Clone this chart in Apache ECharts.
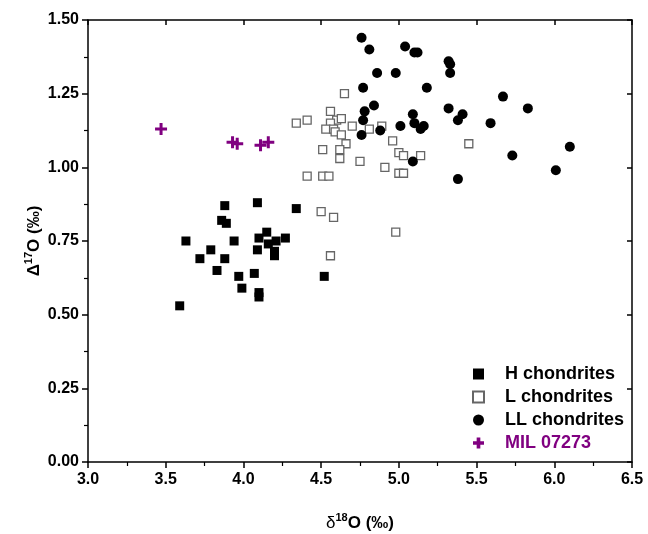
<!DOCTYPE html>
<html><head><meta charset="utf-8">
<script src="https://cdn.jsdelivr.net/npm/echarts@6/dist/echarts.min.js"></script>
<style>html,body{margin:0;padding:0;background:#fff}#c{width:648px;height:534px}</style>
</head><body><div id="c"></div>
<script>
var xTicks = [3.0, 3.5, 4.0, 4.5, 5.0, 5.5, 6.0, 6.5];
var yTicks = [0.00, 0.25, 0.50, 0.75, 1.00, 1.25, 1.50];
var seriesNames = ['H chondrites', 'L chondrites', 'LL chondrites', 'MIL 07273'];
var hChondrites = [
  [3.59,0.53],[3.63,0.75],[3.72,0.69],[3.79,0.72],[3.83,0.65],[3.86,0.82],[3.88,0.87],
  [3.88,0.69],[3.89,0.81],[3.94,0.75],[3.97,0.63],[3.99,0.59],[4.07,0.64],[4.09,0.88],
  [4.09,0.72],[4.10,0.76],[4.10,0.575],[4.10,0.56],[4.15,0.78],[4.16,0.74],[4.20,0.715],
  [4.20,0.70],[4.21,0.75],[4.27,0.76],[4.34,0.86],[4.52,0.63]
];
var lChondrites = [
  [4.65,1.25],[4.56,1.19],[4.34,1.15],[4.41,1.16],[4.60,1.16],[4.63,1.165],[4.56,1.15],
  [4.53,1.13],[4.58,1.13],[4.70,1.14],[4.81,1.13],[4.89,1.14],[4.59,1.12],[4.63,1.11],
  [4.66,1.08],[4.51,1.06],[4.62,1.06],[4.62,1.03],[4.75,1.02],[4.96,1.09],[5.00,1.05],
  [5.03,1.04],[5.14,1.04],[4.91,1.00],[5.00,0.98],[5.03,0.98],[4.41,0.97],[4.51,0.97],
  [4.55,0.97],[5.45,1.08],[4.50,0.85],[4.58,0.83],[4.98,0.78],[4.56,0.70]
];
var llChondrites = [
  [4.76,1.44],[4.81,1.40],[5.04,1.41],[5.10,1.39],[5.12,1.39],[5.32,1.36],[5.33,1.35],
  [5.33,1.32],[4.86,1.32],[4.98,1.32],[4.77,1.27],[5.18,1.27],[4.84,1.21],[4.78,1.19],
  [4.77,1.16],[4.76,1.11],[4.88,1.125],[5.01,1.14],[5.09,1.18],[5.10,1.15],[5.14,1.13],
  [5.16,1.14],[5.32,1.20],[5.41,1.18],[5.38,1.16],[5.09,1.02],[5.38,0.96],[5.67,1.24],
  [5.59,1.15],[5.83,1.20],[5.73,1.04],[6.10,1.07],[6.01,0.99]
];
var mil07273 = [[3.47,1.13],[3.93,1.085],[3.96,1.08],[4.11,1.075],[4.16,1.085]];

var purple = '#800080';
var crossPath = 'path://M4.5,0H7.5V4.5H12V7.5H7.5V12H4.5V7.5H0V4.5H4.5Z';
var legendCross = 'path://M4,0H8V4H12V8H8V12H4V8H0V4H4Z';
var font = '"Liberation Sans", Arial, sans-serif';
var chart = echarts.init(document.getElementById('c'));
var axLine = {show:true, onZero:false, lineStyle:{color:'#000', width:1.5}};
var baseX = {type:'value', min:xTicks[0], max:xTicks[xTicks.length-1], interval:0.5, splitLine:{show:false}};
var baseY = {type:'value', min:yTicks[0], max:yTicks[yTicks.length-1], interval:0.25, splitLine:{show:false}};
var titleRich = {
  d:{fontFamily:font, fontSize:17, color:'#000', verticalAlign:'bottom'},
  D:{fontFamily:font, fontSize:17, fontWeight:'bold', color:'#000', verticalAlign:'bottom'},
  s:{fontFamily:font, fontSize:11, fontWeight:'bold', color:'#000', verticalAlign:'top', padding:[0,0,9,0]},
  o:{fontFamily:font, fontSize:17, fontWeight:'bold', color:'#000', verticalAlign:'bottom'}
};
chart.setOption({
  animation:false,
  backgroundColor:'#fff',
  grid:{left:88, right:16, top:20, bottom:72, containLabel:false, outerBoundsMode:'none'},
  legend:{
    orient:'vertical', left:472, top:365, padding:0, itemGap:5, itemWidth:11, itemHeight:11,
    textStyle:{fontFamily:font, fontSize:18, lineHeight:17, fontWeight:'bold', color:'#000', padding:[0,0,0,16]},
    data:[
      {name:seriesNames[0], icon:'rect'},
      {name:seriesNames[1], icon:'rect'},
      {name:seriesNames[2], icon:'circle'},
      {name:seriesNames[3], icon:legendCross, textStyle:{color:purple}}
    ]
  },
  xAxis:[
    Object.assign({}, baseX, {
      position:'bottom', axisLine:axLine,
      axisTick:{show:true, inside:false, length:6, lineStyle:{color:'#000', width:1.5}},
      minorTick:{show:true, splitNumber:2, length:4, lineStyle:{color:'#000', width:1.2}},
      axisLabel:{color:'#000', fontFamily:font, fontSize:16, fontWeight:'bold', margin:10,
        formatter:function(v){return v.toFixed(1);}},
      name:'{d|δ}{s|18}{o|O (‰)}', nameLocation:'middle', nameGap:50, nameMoveOverlap:false,
      nameTextStyle:{rich:titleRich}
    }),
    Object.assign({}, baseX, {
      position:'top', axisLine:axLine,
      axisTick:{show:true, inside:true, length:5, lineStyle:{color:'#000', width:1.5}},
      minorTick:{show:false},
      axisLabel:{show:false}
    })
  ],
  yAxis:[
    Object.assign({}, baseY, {
      position:'left', axisLine:axLine,
      axisTick:{show:true, inside:false, length:6, lineStyle:{color:'#000', width:1.5}},
      minorTick:{show:true, splitNumber:2, length:4, lineStyle:{color:'#000', width:1.2}},
      axisLabel:{color:'#000', fontFamily:font, fontSize:16, fontWeight:'bold', margin:9,
        formatter:function(v){return v.toFixed(2);}},
      name:'{D|Δ}{s|17}{o|O (‰)}', nameLocation:'middle', nameGap:45, nameRotate:90, nameMoveOverlap:false,
      nameTextStyle:{rich:titleRich}
    }),
    Object.assign({}, baseY, {
      position:'right', axisLine:axLine,
      axisTick:{show:true, inside:true, length:5, lineStyle:{color:'#000', width:1.5}},
      minorTick:{show:false},
      axisLabel:{show:false}
    })
  ],
  series:[
    {name:seriesNames[0], type:'scatter', data:hChondrites, symbol:'rect', symbolSize:9,
      itemStyle:{color:'#000', opacity:1}},
    {name:seriesNames[1], type:'scatter', data:lChondrites, symbol:'rect', symbolSize:8,
      itemStyle:{color:'#fff', borderColor:'#666', borderWidth:1.3, opacity:1}},
    {name:seriesNames[2], type:'scatter', data:llChondrites, symbol:'circle', symbolSize:10,
      itemStyle:{color:'#000', opacity:1}},
    {name:seriesNames[3], type:'scatter', data:mil07273, symbol:crossPath, symbolSize:12,
      itemStyle:{color:purple, opacity:1}}
  ]
});
</script></body></html>
